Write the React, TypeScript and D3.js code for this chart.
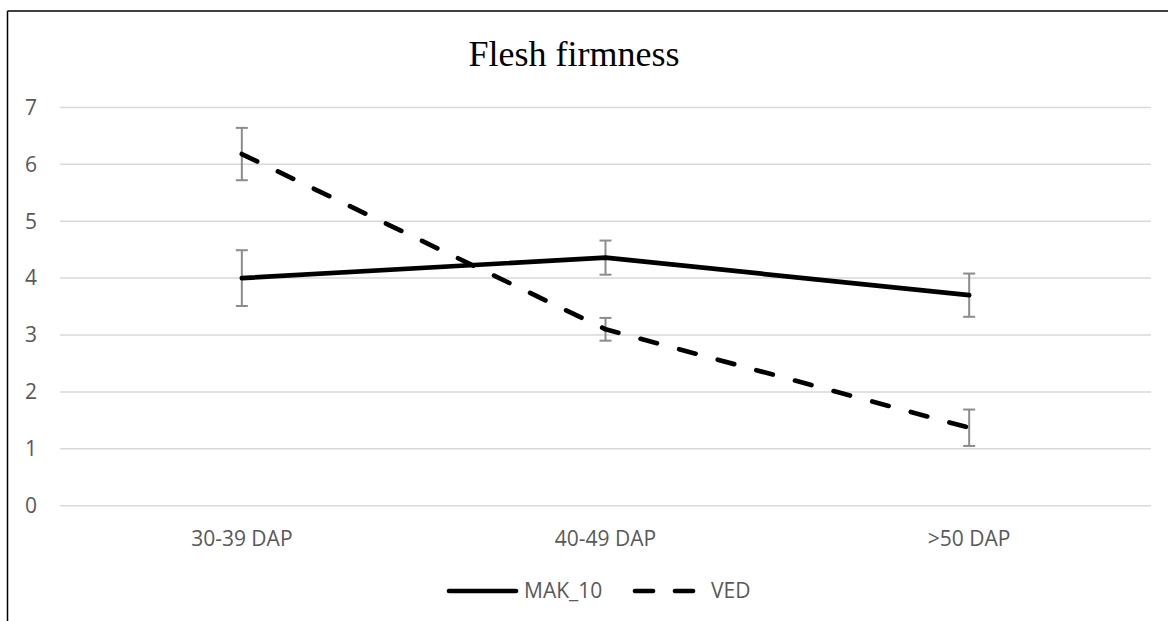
import React from "react";
import * as d3 from "d3";

const categories = ["30-39 DAP", "40-49 DAP", ">50 DAP"];
const makValues = [4.0, 4.36, 3.7];
const makErrors = [0.49, 0.3, 0.38];
const vedValues = [6.18, 3.1, 1.37];
const vedErrors = [0.46, 0.2, 0.32];
const yTicks = [0, 1, 2, 3, 4, 5, 6, 7];
const seriesNames = ["MAK_10", "VED"];

const W = 1168;
const H = 621;
const left = 60;
const right = 1151;
const top = 107.4;
const bottom = 505.7;
const tickFont = "'Open Sans', 'Noto Sans', sans-serif";
const grey = "#595959";

export default function App() {
  const x = d3.scaleBand<string>().domain(categories).range([left, right]);
  const cx = (c: string) => (x(c) as number) + x.bandwidth() / 2;
  const y = d3.scaleLinear().domain([0, 7]).range([bottom, top]);
  const line = d3
    .line<number>()
    .x((_, i) => cx(categories[i]))
    .y((d) => y(d));

  const series = [
    { name: seriesNames[0], values: makValues, errors: makErrors, dash: undefined as string | undefined },
    { name: seriesNames[1], values: vedValues, errors: vedErrors, dash: "17 23" },
  ];

  return (
    <svg
      width={W}
      height={H}
      style={{ position: "fixed", left: 0, top: 0, background: "#fff" }}
    >
      <rect x={0} y={0} width={W} height={H} fill="#fff" />
      {/* frame */}
      <line x1={7.5} x2={W} y1={11} y2={11} stroke="#000" strokeWidth={1.5} />
      <line x1={7.5} x2={7.5} y1={11} y2={H} stroke="#000" strokeWidth={1.5} />

      {/* title */}
      <text
        x={574}
        y={66}
        textAnchor="middle"
        fontFamily="'Liberation Serif', 'Times New Roman', serif"
        fontSize={36}
        fill="#000"
      >
        Flesh firmness
      </text>

      {/* gridlines */}
      {yTicks.map((t) => (
        <g key={t}>
          <line x1={left} x2={right} y1={y(t)} y2={y(t)} stroke="#d9d9d9" strokeWidth={1.5} />
          <text
            x={37}
            y={y(t)}
            dy="0.35em"
            textAnchor="end"
            fontFamily={tickFont}
            fontSize={21}
            fill={grey}
          >
            {t}
          </text>
        </g>
      ))}

      {/* x labels */}
      {categories.map((c) => (
        <text
          key={c}
          x={cx(c)}
          y={546}
          textAnchor="middle"
          fontFamily={tickFont}
          fontSize={21}
          fill={grey}
        >
          {c}
        </text>
      ))}

      {/* error bars */}
      {series.map((s) =>
        s.values.map((v, i) => {
          const px = cx(categories[i]);
          const y1 = y(v + s.errors[i]);
          const y2 = y(v - s.errors[i]);
          return (
            <g key={s.name + i} stroke="#8c8c8c" strokeWidth={2}>
              <line x1={px} x2={px} y1={y1} y2={y2} />
              <line x1={px - 6} x2={px + 6} y1={y1} y2={y1} />
              <line x1={px - 6} x2={px + 6} y1={y2} y2={y2} />
            </g>
          );
        })
      )}

      {/* lines */}
      {series.map((s) => (
        <path
          key={s.name}
          d={line(s.values) || ""}
          fill="none"
          stroke="#000"
          strokeWidth={4.7}
          strokeLinecap="round"
          strokeLinejoin="round"
          strokeDasharray={s.dash}
        />
      ))}

      {/* legend */}
      <line x1={449} x2={516} y1={591} y2={591} stroke="#000" strokeWidth={4.7} strokeLinecap="round" />
      <text x={524} y={591} dy="0.35em" fontFamily={tickFont} fontSize={21} fill={grey}>
        {seriesNames[0]}
      </text>
      <line
        x1={635}
        x2={694}
        y1={591}
        y2={591}
        stroke="#000"
        strokeWidth={4.7}
        strokeLinecap="round"
        strokeDasharray="18 22"
      />
      <text x={711} y={591} dy="0.35em" fontFamily={tickFont} fontSize={21} fill={grey}>
        {seriesNames[1]}
      </text>
    </svg>
  );
}
